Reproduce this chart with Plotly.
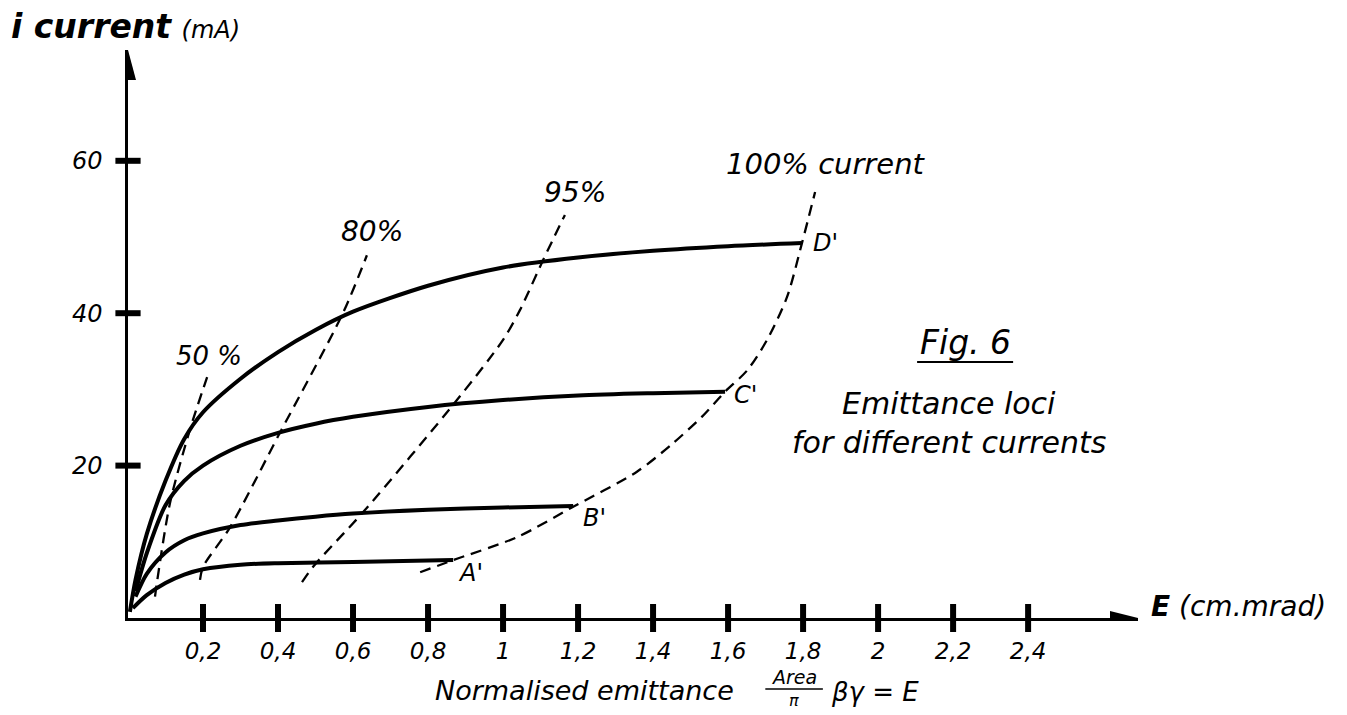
import plotly.graph_objects as go

# ---------------- data ----------------
x_tick_vals = [0.2, 0.4, 0.6, 0.8, 1.0, 1.2, 1.4, 1.6, 1.8, 2.0, 2.2, 2.4]
x_tick_text = ["0,2", "0,4", "0,6", "0,8", "1", "1,2", "1,4", "1,6", "1,8", "2", "2,2", "2,4"]
y_tick_vals = [20, 40, 60]
y_tick_text = ["20", "40", "60"]

# solid emittance curves (E in cm.mrad, i in mA)
curve_A_E = [0.013, 0.05, 0.10, 0.15, 0.20, 0.30, 0.40, 0.60, 0.867]
curve_A_I = [1.3, 3.0, 4.6, 5.7, 6.4, 7.0, 7.2, 7.35, 7.6]
curve_B_E = [0.02, 0.05, 0.10, 0.15, 0.20, 0.30, 0.40, 0.50, 0.60, 0.80, 1.00, 1.187]
curve_B_I = [2.8, 5.8, 8.6, 10.2, 11.1, 12.2, 12.8, 13.3, 13.7, 14.2, 14.5, 14.7]
curve_C_E = [0.02, 0.05, 0.10, 0.15, 0.20, 0.30, 0.40, 0.50, 0.60, 0.80, 1.00, 1.20, 1.40, 1.592]
curve_C_I = [3.5, 8.5, 14.8, 18.0, 20.0, 22.6, 24.3, 25.5, 26.4, 27.7, 28.6, 29.2, 29.5, 29.7]
curve_D_E = [0.005, 0.02, 0.05, 0.10, 0.15, 0.20, 0.30, 0.40, 0.50, 0.60, 0.80, 1.00, 1.20, 1.40, 1.60, 1.797]
curve_D_I = [0.8, 5.0, 11.0, 18.0, 23.5, 27.0, 31.4, 34.9, 37.8, 40.2, 43.6, 46.0, 47.3, 48.2, 48.8, 49.2]

# dashed constant-fraction loci
loci_50_E = [0.072, 0.077, 0.112, 0.165, 0.211]
loci_50_I = [2.8, 4.6, 15.1, 24.7, 31.6]
loci_80_E = [0.192, 0.200, 0.272, 0.405, 0.573, 0.637]
loci_80_I = [5.0, 6.7, 11.9, 24.3, 40.0, 47.6]
loci_95_E = [0.464, 0.493, 0.627, 0.877, 1.000, 1.045, 1.107, 1.165]
loci_95_I = [4.7, 6.7, 13.9, 28.6, 36.5, 40.4, 47.0, 52.9]
loci_100_E = [0.779, 0.867, 1.037, 1.187, 1.357, 1.45, 1.53, 1.592, 1.651, 1.704, 1.757, 1.797, 1.832]
loci_100_I = [6.0, 7.6, 10.6, 14.6, 19.2, 22.8, 26.4, 29.7, 32.5, 36.5, 42.1, 49.2, 55.9]

X_MAX = 2.693
Y_MAX = 74.54
FONT = "DejaVu Sans"

fig = go.Figure()

for e, i in [(curve_A_E, curve_A_I), (curve_B_E, curve_B_I),
             (curve_C_E, curve_C_I), (curve_D_E, curve_D_I)]:
    fig.add_trace(go.Scatter(
        x=e, y=i, mode="lines", cliponaxis=False, hoverinfo="skip", showlegend=False,
        line=dict(color="black", width=4, shape="spline", smoothing=0.8)))

for e, i in [(loci_50_E, loci_50_I), (loci_80_E, loci_80_I),
             (loci_95_E, loci_95_I), (loci_100_E, loci_100_I)]:
    fig.add_trace(go.Scatter(
        x=e, y=i, mode="lines", cliponaxis=False, hoverinfo="skip", showlegend=False,
        line=dict(color="black", width=2.3, dash="11px,7px", shape="spline", smoothing=0.8)))

# crossing tick marks
fig.add_trace(go.Scatter(
    x=x_tick_vals, y=[0] * len(x_tick_vals), mode="markers", cliponaxis=False,
    hoverinfo="skip", showlegend=False,
    marker=dict(symbol="line-ns", size=20, color="black", line=dict(width=6, color="black"))))
fig.add_trace(go.Scatter(
    x=[0] * len(y_tick_vals), y=y_tick_vals, mode="markers", cliponaxis=False,
    hoverinfo="skip", showlegend=False,
    marker=dict(symbol="line-ew", size=18, color="black", line=dict(width=6, color="black"))))

# arrow heads on the axes
fig.add_shape(type="path", xref="x", yref="y", xsizemode="pixel", ysizemode="pixel",
              xanchor=X_MAX, yanchor=0, path="M 0,0 L -28,-7 L -28,7 Z",
              fillcolor="black", line=dict(width=0))
fig.add_shape(type="path", xref="x", yref="y", xsizemode="pixel", ysizemode="pixel",
              xanchor=0, yanchor=Y_MAX, path="M 0,0 L -8,-30 L 8,-30 Z",
              fillcolor="black", line=dict(width=0))


def label(text, x, y, size=24, xanchor="center", yanchor="middle", ref="data"):
    r = ("x", "y") if ref == "data" else ("paper", "paper")
    fig.add_annotation(text=text, x=x, y=y, xref=r[0], yref=r[1], showarrow=False,
                       xanchor=xanchor, yanchor=yanchor, borderpad=0,
                       font=dict(family=FONT, size=size, color="black", style="italic"))


label("50 %", 0.215, 34.4, size=26)
label("80%", 0.651, 50.7, size=28)
label("95%", 1.192, 55.9, size=28)
label("100% current", 2.131, 59.6, size=29, xanchor="right")
label("D'", 1.824, 49.2, xanchor="left")
label("C'", 1.613, 29.3, xanchor="left")
label("B'", 1.211, 13.1, xanchor="left")
label("A'", 0.877, 5.9, xanchor="left")
label("Fig. 6", 2.232, 36.1, size=33)
fig.add_shape(type="line", xref="x", yref="y", x0=2.104, x1=2.36, y0=33.6, y1=33.6,
              line=dict(color="black", width=2))
label("Emittance loci", 2.19, 28.2, size=30)
label("for different currents", 2.19, 23.0, size=30)

# texts outside the plotting area (paper coordinates)
label("<b>i current</b> <span style='font-size:24px'>(mA)</span>", -0.117, 1.041,
      size=33, xanchor="left", ref="paper")
label("<b>E</b> (cm.mrad)", 1.012, 0.021, size=28, xanchor="left", ref="paper")
label("Normalised emittance", 0.452, -0.127, size=27, ref="paper")
label("Area", 0.659, -0.104, size=19, ref="paper")
label("π", 0.659, -0.145, size=16, ref="paper")
fig.add_shape(type="line", xref="paper", yref="paper", x0=0.631, x1=0.688, y0=-0.125, y1=-0.125,
              line=dict(color="black", width=1.5))
label("βγ = E", 0.695, -0.130, size=26, xanchor="left", ref="paper")

fig.update_layout(
    width=1347, height=715, autosize=False,
    margin=dict(l=128, r=1347 - 1138, t=50, b=97, pad=0),
    paper_bgcolor="white", plot_bgcolor="white",
    font=dict(family=FONT, color="black"),
    showlegend=False,
    xaxis=dict(range=[0, X_MAX], showline=True, linecolor="black", linewidth=2.5,
               showgrid=False, zeroline=False, tickmode="array",
               tickvals=x_tick_vals, ticktext=x_tick_text, ticks="",
               ticklabelstandoff=11,
               tickfont=dict(family=FONT, size=23, color="black", style="italic")),
    yaxis=dict(range=[0, Y_MAX], showline=True, linecolor="black", linewidth=2.5,
               showgrid=False, zeroline=False, tickmode="array",
               tickvals=y_tick_vals, ticktext=y_tick_text, ticks="",
               ticklabelstandoff=18,
               tickfont=dict(family=FONT, size=24, color="black", style="italic")),
)

fig.write_html("out.html")
